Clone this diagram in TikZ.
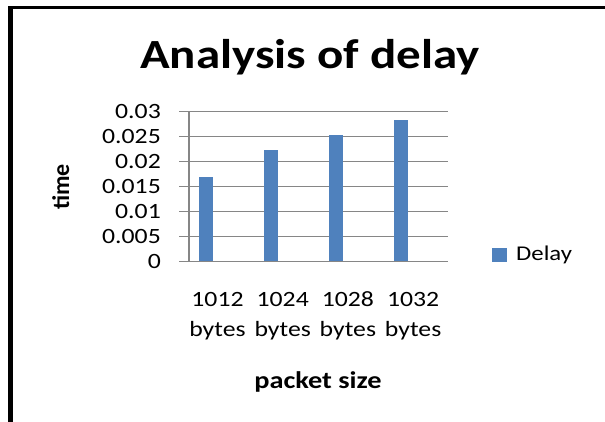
\documentclass[tikz,border=0pt]{standalone}
\usepackage{fontspec}
\setmainfont{Carlito}[FakeStretch=1.18]
\newfontfamily\rotfont{Carlito}
\definecolor{barblue}{HTML}{4F81BD}
\definecolor{gridgray}{HTML}{868686}
\begin{document}
\begin{tikzpicture}[x=1pt,y=-1pt,
  gridline/.style={draw=gridgray,line width=1.1pt},
  bar/.style={fill=barblue,draw=none},
  ticklab/.style={anchor=base east,inner sep=0pt,font=\fontsize{21.8}{25}\selectfont},
  catlab/.style={anchor=base,inner sep=0pt,font=\fontsize{21.8}{25}\selectfont},
  frameline/.style={fill=black,draw=none}]
\useasboundingbox (0,0) rectangle (605,422);
% frame
\fill[frameline] (8.3,6) rectangle (605,9);
\fill[frameline] (8.3,6) rectangle (13.3,422);
% title
\node[anchor=base,inner sep=0pt,font=\fontsize{41.5}{48}\selectfont\bfseries] (title) at (310,68.3) {Analysis of delay};
% gridlines
\foreach \k in {0,...,6}{
  \draw[gridline] (179,{261.5-25*\k}) -- (448,{261.5-25*\k});
}
\draw[gridline] (189,111.5) -- (189,261.5);
% tick labels
\foreach \v/\k in {0/0,0.005/1,0.01/2,0.015/3,0.02/4,0.025/5,0.03/6}{
  \node[ticklab] (t\k) at (161,{261.5-25*\k+6.9}) {\v};
}
% bars
\foreach \val [count=\i from 0] in {0.0169,0.0223,0.0253,0.0283}{
  \fill[bar] ({199+65*\i},261) rectangle ({213+65*\i},{261.5-5000*\val});
}
% category labels
\foreach \c [count=\i from 0] in {1012,1024,1028,1032}{
  \node[catlab] (c\i) at ({217.5+65.2*\i},306.7) {\c};
  \node[catlab] (b\i) at ({217.5+65.2*\i},336.7) {bytes};
}
% axis titles
\node[anchor=base,inner sep=0pt,font=\fontsize{24}{28}\selectfont\bfseries] (xtitle) at (318,388.3) {packet size};
\node[anchor=base,inner sep=0pt,rotate=90,font=\rotfont\fontsize{24}{28}\selectfont\bfseries] (ytitle) at (69,187) {time};
% legend
\fill[bar] (492,248) rectangle (507,262);
\node[anchor=base west,inner sep=0pt,font=\fontsize{21}{24}\selectfont] (leg) at (516,260.7) {Delay};
\end{tikzpicture}
\end{document}
